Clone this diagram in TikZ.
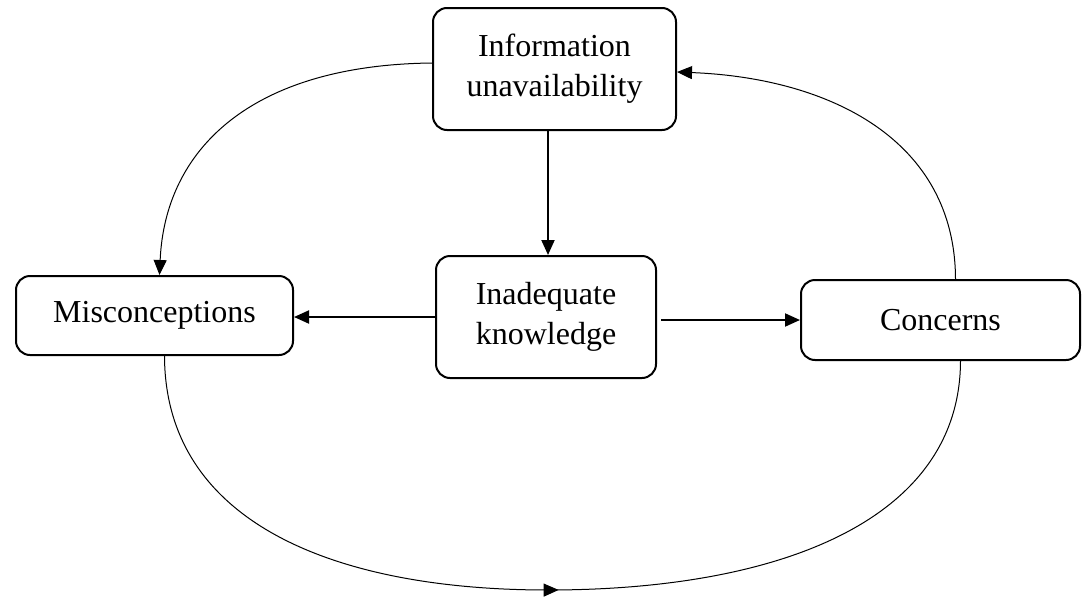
\documentclass[tikz,border=0pt]{standalone}
\usepackage{fontspec}
\setmainfont{Liberation Serif}
\usetikzlibrary{arrows.meta,decorations.markings}
\begin{document}
\begin{tikzpicture}[x=1pt,y=-1pt,
  box/.style={draw,line width=2pt,rounded corners=14pt,align=center,font=\fontsize{32}{40}\selectfont,inner sep=0pt},
  link/.style={line width=2pt,-{Triangle[length=15pt,width=13pt]}},
  loop/.style={line width=1pt,-{Triangle[length=15pt,width=13pt]}}]
\useasboundingbox (0,0) rectangle (1082,600);
\node[box,minimum width=243pt,minimum height=122pt] (info) at (554.5,69) {Information\\unavailability};
\node[box,minimum width=277pt,minimum height=79pt] (misc) at (154.5,315.5) {Misconceptions};
\node[box,minimum width=220pt,minimum height=122pt] (inad) at (546,317) {Inadequate\\knowledge};
\node[box,minimum width=279pt,minimum height=80pt] (conc) at (940.5,320) {Concerns};
\draw[link] ([xshift=2pt]inad.north |- info.south) -- ([xshift=2pt]inad.north);
\draw[link] (inad.west) -- (inad.west -| misc.east);
\draw[link] ([xshift=4pt,yshift=-3pt]inad.east) -- ([yshift=-3pt]inad.east -| conc.west);
\draw[loop] ([yshift=6pt]info.west) .. controls (250,65) and (165,150) .. ([xshift=5pt]misc.north);
\draw[loop] ([xshift=15pt]conc.north) .. controls (955,140) and (830,78) .. ([yshift=-3pt]info.east);
\draw[line width=1pt,postaction={decorate},decoration={markings,mark=at position 0.5 with {\arrow{Triangle[length=15pt,width=13pt]}}}]
  ([xshift=10pt]misc.south) .. controls (165,520) and (330,590) .. (548,590)
  .. controls (780,590) and (960,520) .. ([xshift=20pt]conc.south);
\end{tikzpicture}
\end{document}
